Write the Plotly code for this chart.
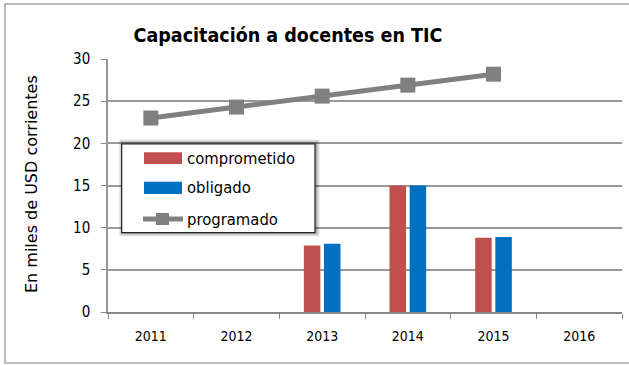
import plotly.graph_objects as go

# Data (miles de USD corrientes)
years = ["2011", "2012", "2013", "2014", "2015", "2016"]
comprometido = [None, None, 7.9, 15.0, 8.8, None]
obligado = [None, None, 8.1, 15.0, 8.9, None]
programado = [23.0, 24.3, 25.6, 26.9, 28.2, None]

RED = "#C0504D"
BLUE = "#0070C0"
GRAY = "#808080"
NARROW = "DejaVu Sans Condensed, Liberation Sans Narrow, sans-serif"

W, H = 629, 365
L, R, T, B = 108, 7, 59, 53
PW, PH = W - L - R, H - T - B


def px(x):
    return (x - L) / PW


def py(y):
    return (H - B - y) / PH


fig = go.Figure()
fig.add_trace(go.Bar(x=years, y=comprometido, name="comprometido",
                     marker=dict(color=RED, line=dict(width=0))))
fig.add_trace(go.Bar(x=years, y=obligado, name="obligado",
                     marker=dict(color=BLUE, line=dict(width=0))))
fig.add_trace(go.Scatter(x=years, y=programado, name="programado",
                         mode="lines+markers",
                         line=dict(color=GRAY, width=5),
                         marker=dict(symbol="square", size=15, color=GRAY)))

shapes = []
# outer chart frame
shapes.append(dict(type="rect", xref="paper", yref="paper",
                   x0=px(5), x1=px(660), y0=py(363), y1=py(4),
                   line=dict(color="#a6a6a6", width=1.5), layer="below"))

# legend box with soft shadow
lx0, lx1, ly0, ly1 = 121.7, 315, 144, 232.7
for i, op in enumerate([0.06, 0.08, 0.10, 0.12]):
    g = 5 - i
    shapes.append(dict(type="rect", xref="paper", yref="paper",
                       x0=px(lx0 - g + 2), x1=px(lx1 + g), y0=py(ly1 + g - 1),
                       y1=py(ly0 - g),
                       fillcolor=f"rgba(0,0,0,{op})", line=dict(width=0)))
shapes.append(dict(type="rect", xref="paper", yref="paper",
                   x0=px(lx0), x1=px(lx1), y0=py(ly1), y1=py(ly0),
                   fillcolor="white", line=dict(color="#222222", width=1.2)))
# legend swatches
shapes.append(dict(type="rect", xref="paper", yref="paper",
                   x0=px(144), x1=px(182), y0=py(164), y1=py(152.3),
                   fillcolor=RED, line=dict(width=0)))
shapes.append(dict(type="rect", xref="paper", yref="paper",
                   x0=px(144), x1=px(182), y0=py(194), y1=py(181.7),
                   fillcolor=BLUE, line=dict(width=0)))
shapes.append(dict(type="line", xref="paper", yref="paper",
                   x0=px(143), x1=px(183), y0=py(219), y1=py(219),
                   line=dict(color=GRAY, width=5)))
shapes.append(dict(type="rect", xref="paper", yref="paper",
                   x0=px(156), x1=px(169), y0=py(225), y1=py(213),
                   fillcolor=GRAY, line=dict(width=0)))

annotations = []
for label, yc in [("comprometido", 158), ("obligado", 188), ("programado", 219)]:
    annotations.append(dict(text=label, xref="paper", yref="paper",
                            x=px(185), y=py(yc), xanchor="left", yanchor="middle",
                            showarrow=False,
                            font=dict(family=NARROW, size=16.5, color="black")))
annotations.append(dict(text="En miles de USD corrientes", xref="paper", yref="paper",
                        x=px(31), y=py(184), textangle=-90, showarrow=False,
                        xanchor="center", yanchor="middle",
                        font=dict(family="DejaVu Sans, Verdana, sans-serif",
                                  size=16, color="black")))

fig.update_layout(
    width=W, height=H,
    margin=dict(l=L, r=R, t=T, b=B),
    paper_bgcolor="white", plot_bgcolor="white",
    showlegend=False,
    barmode="group", bargap=0.53, bargroupgap=0.18,
    title=dict(text="<b>Capacitación a docentes en TIC</b>",
               x=288 / W, xanchor="center", y=1 - 35 / H, yanchor="middle",
               font=dict(family=NARROW, size=19.5, color="black")),
    shapes=shapes, annotations=annotations,
    xaxis=dict(type="category", categoryorder="array", categoryarray=years,
               showline=True, linecolor="#888888", linewidth=1.5,
               ticks="outside", tickson="boundaries", ticklen=5,
               tickcolor="#888888", showgrid=False,
               ticklabelstandoff=10,
               tickfont=dict(family=NARROW, size=14, color="black")),
    yaxis=dict(range=[0, 30], dtick=5, showline=True, linecolor="#999999",
               linewidth=1.5, ticks="outside", ticklen=5, tickcolor="#888888",
               showgrid=True, gridcolor="#999999", gridwidth=1.5,
               zeroline=False, ticklabelstandoff=8,
               tickfont=dict(family=NARROW, size=15, color="black")),
)

fig.write_html("out.html")
